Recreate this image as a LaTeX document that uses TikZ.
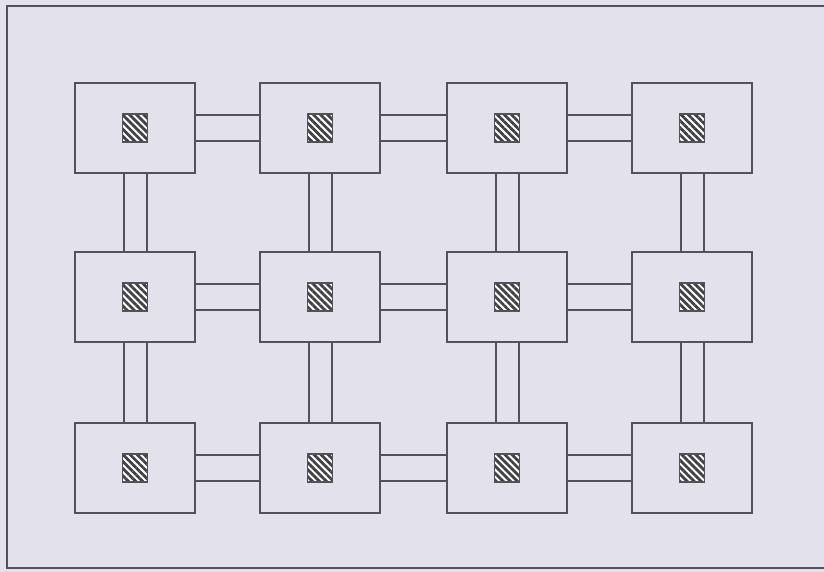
\documentclass[tikz,border=0pt]{standalone}
\usepackage{tikz}
\usetikzlibrary{
	patterns.meta,
	positioning
}
\definecolor{paper}{RGB}{227,225,235}
\definecolor{ink}{RGB}{82,82,88}

\begin{document}
\begin{tikzpicture}[
			x=1pt, y=-1pt,
			cell/.style={draw=ink, line width=1.6pt, fill=paper, minimum width=120pt, minimum height=90pt, inner sep=0pt},
			pad/.style={draw=ink, line width=1.4pt, minimum width=25pt, minimum height=28pt, inner sep=0pt,
				preaction={fill=white}, pattern={Lines[angle=-45, distance=5pt, line width=2.8pt]}, pattern color=ink!80!black},
			hlink/.style={draw=ink, line width=1.6pt, double=paper, double distance=24.5pt},
			vlink/.style={draw=ink, line width=2pt, double=paper, double distance=21pt}
		]

		% sheet and frame (open on the right)
		\fill[paper] (0,0) rectangle (824,572);
		\useasboundingbox (0,0) rectangle (824,572);
		\draw[ink, line width=1.6pt] (824,6) -- (7,6) -- (7,568) -- (824,568);

		% cells with their pads
		\foreach \c/\x in {1/135,2/320,3/507,4/692}
			\foreach \r/\y in {1/128,2/297,3/468} {
				\node[cell] (c\r\c) at (\x,\y) {};
				\node[pad] (p\r\c) at (\x,\y) {};
			}

		% links between neighbours
		\foreach \r in {1,2,3}
			\foreach \c/\n in {1/2,2/3,3/4}
				\draw[hlink] (c\r\c) -- (c\r\n);
		\foreach \c in {1,...,4}
			\foreach \r/\n in {1/2,2/3}
				\draw[vlink] (c\r\c) -- (c\n\c);
	\end{tikzpicture}
\end{document}
